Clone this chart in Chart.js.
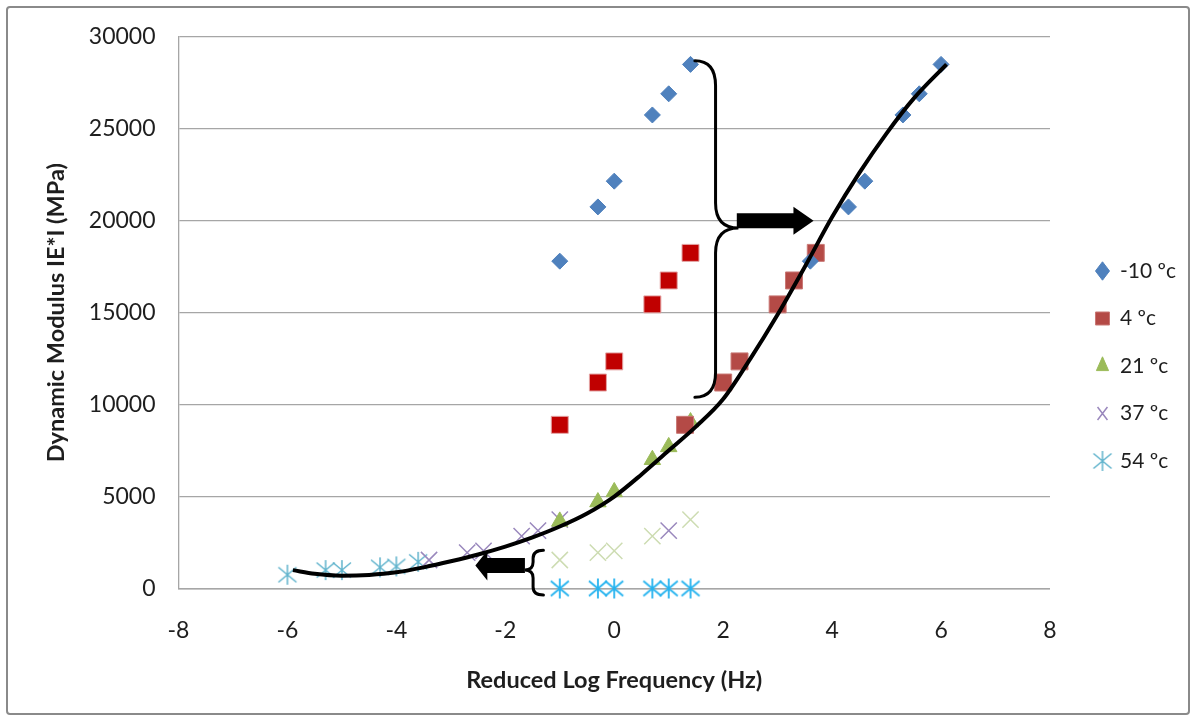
<!DOCTYPE html>
<html>
<head>
<meta charset="utf-8">
<script src="https://cdn.jsdelivr.net/npm/chart.js@4.4.1/dist/chart.umd.min.js"></script>
<style>
  html, body { margin: 0; padding: 0; background: #fff; }
</style>
</head>
<body>
<canvas id="modChart" width="1196" height="721"></canvas>
<script>
  // Frecuencias medidas (log Hz) y frecuencias reducidas tras el desplazamiento
  const logFreq = [-1, -0.3, 0, 0.7, 1, 1.4];
  const redFreqM10 = [3.6, 4.3, 4.6, 5.3, 5.6, 6.0];
  const redFreq4 = [1.3, 2.0, 2.3, 3.0, 3.3, 3.7];
  const redFreq37 = [-3.4, -2.7, -2.4, -1.7, -1.4, -1.0];
  const redFreq54 = [-6.0, -5.3, -5.0, -4.3, -4.0, -3.6];

  // Módulo dinámico |E*| en MPa por temperatura
  const modM10 = [17800, 20750, 22150, 25750, 26900, 28500];
  const mod4 = [8900, 11200, 12350, 15450, 16750, 18250];
  const mod21 = [3650, 4700, 5250, 7000, 7700, 9050];
  const mod37 = [1550, 1950, 2050, 2850, 3150, 3750];
  const mod54 = [750, 1000, 1000, 1150, 1200, 1450];
  const mod54Raw = [0, 0, 0, 0, 0, 0];

  // Curva maestra a 21 ºc
  const masterX = [-5.9, -5.5, -5, -4.5, -4, -3.5, -3, -2.5, -2, -1.5, -1, -0.5, 0, 0.5, 1, 1.5, 2, 2.5, 3, 3.5, 4, 4.5, 5, 5.5, 6.1];
  const masterY = [1000, 800, 700, 740, 880, 1150, 1480, 1850, 2280, 2780, 3370, 4080, 5000, 6200, 7500, 8800, 10300, 12500, 14900, 17500, 20200, 22600, 24750, 26650, 28500];

  const tempLabels = ['-10 ºc', '4 ºc', '21 ºc', '37 ºc', '54 ºc'];

  const xTicks = { min: -8, max: 8, step: 2 };
  const yTicks = { min: 0, max: 30000, step: 5000 };

  const pts = (xs, ys) => xs.map((x, i) => ({ x: x, y: ys[i] }));

  // Asterisco de 6 brazos para la serie de 54 ºc
  function asterisk(color, size, lw) {
    const c = document.createElement('canvas');
    c.width = size; c.height = size;
    const g = c.getContext('2d');
    const h = size / 2;
    g.strokeStyle = color;
    g.lineWidth = lw;
    g.beginPath();
    g.moveTo(h, 1); g.lineTo(h, size - 1);
    g.moveTo(h - 9, h - 7.5); g.lineTo(h + 9, h + 7.5);
    g.moveTo(h - 9, h + 7.5); g.lineTo(h + 9, h - 7.5);
    g.stroke();
    return c;
  }

  const FONT = 'Lato, "Open Sans", sans-serif';
  const GRID = '#a6a6a6';
  const TXT = '#1e1e1e';

  const light37 = '#cddcb2';
  const purple = '#9a88bd';

  // Marco exterior
  const frame = {
    id: 'frame',
    beforeDraw(chart) {
      const c = chart.ctx;
      c.save();
      c.fillStyle = '#fff';
      c.fillRect(0, 0, chart.width, chart.height);
      c.strokeStyle = '#8a8a8a';
      c.lineWidth = 2;
      c.beginPath();
      c.roundRect(7, 7, chart.width - 14, chart.height - 14, 3);
      c.stroke();
      c.restore();
    }
  };

  // Llaves y flechas que indican el desplazamiento horizontal
  const shiftNotes = {
    braces: [
      { end: 1.48, spine: 1.86, tip: 2.28, top: 28700, mid: 19600, bottom: 10400, r: 25 },
      { end: -1.30, spine: -1.49, tip: -1.64, top: 2080, mid: 1000, bottom: -350, r: 8 }
    ],
    arrows: [
      { tail: 2.25, base: 3.29, tip: 3.66, y: 20000, shaft: 7.5, head: 14 },
      { tail: -1.64, base: -2.33, tip: -2.55, y: 1250, shaft: 7.5, head: 15 }
    ]
  };

  const notes = {
    id: 'notes',
    afterDatasetsDraw(chart) {
      const c = chart.ctx;
      const sx = chart.scales.x, sy = chart.scales.y;
      c.save();
      c.strokeStyle = '#000';
      c.fillStyle = '#000';
      c.lineWidth = 3;
      c.lineCap = 'round';
      shiftNotes.braces.forEach(b => {
        const xe = sx.getPixelForValue(b.end), xs = sx.getPixelForValue(b.spine), xt = sx.getPixelForValue(b.tip);
        const yt = sy.getPixelForValue(b.top), ym = sy.getPixelForValue(b.mid), yb = sy.getPixelForValue(b.bottom);
        c.beginPath();
        c.moveTo(xe, yt);
        c.quadraticCurveTo(xs, yt, xs, yt + b.r);
        c.lineTo(xs, ym - b.r);
        c.quadraticCurveTo(xs, ym, xt, ym);
        c.quadraticCurveTo(xs, ym, xs, ym + b.r);
        c.lineTo(xs, yb - b.r);
        c.quadraticCurveTo(xs, yb, xe, yb);
        c.stroke();
      });
      shiftNotes.arrows.forEach(a => {
        const x0 = sx.getPixelForValue(a.tail), x1 = sx.getPixelForValue(a.base), x2 = sx.getPixelForValue(a.tip);
        const y = sy.getPixelForValue(a.y);
        c.beginPath();
        c.moveTo(x0, y - a.shaft);
        c.lineTo(x1, y - a.shaft);
        c.lineTo(x1, y - a.head);
        c.lineTo(x2, y);
        c.lineTo(x1, y + a.head);
        c.lineTo(x1, y + a.shaft);
        c.lineTo(x0, y + a.shaft);
        c.closePath();
        c.fill();
      });
      c.restore();
    }
  };

  const datasets = [
    {
      label: 'master',
      data: pts(masterX, masterY),
      showLine: true,
      borderColor: '#000',
      borderWidth: 4,
      pointRadius: 0,
      cubicInterpolationMode: 'monotone',
      fill: false
    },
    {
      label: tempLabels[0], inLegend: true,
      data: pts(redFreqM10, modM10),
      pointStyle: 'rectRot', pointRadius: 8,
      backgroundColor: '#4f81bd', borderColor: '#4f81bd', borderWidth: 1
    },
    {
      label: tempLabels[1], inLegend: true,
      data: pts(redFreq4, mod4),
      pointStyle: 'rect', pointRadius: 12,
      backgroundColor: '#b44a46', borderColor: '#c97875', borderWidth: 1
    },
    {
      label: tempLabels[2], inLegend: true,
      data: pts(logFreq, mod21),
      pointStyle: 'triangle', pointRadius: 9.5,
      backgroundColor: '#9bbb59', borderColor: '#9bbb59', borderWidth: 1
    },
    {
      label: tempLabels[3], inLegend: true,
      data: pts(redFreq37, mod37),
      pointStyle: 'crossRot', pointRadius: 11.5,
      backgroundColor: purple, borderColor: purple, borderWidth: 1.5
    },
    {
      label: tempLabels[4], inLegend: true,
      data: pts(redFreq54, mod54),
      pointStyle: asterisk('#5fb3cc', 22, 1.5),
      backgroundColor: '#5fb3cc', borderColor: '#5fb3cc', borderWidth: 1.5
    },
    // valores medidos antes del desplazamiento
    {
      label: tempLabels[0] + ' medido',
      data: pts(logFreq, modM10),
      pointStyle: 'rectRot', pointRadius: 8,
      backgroundColor: '#4f81bd', borderColor: '#4f81bd', borderWidth: 1
    },
    {
      label: tempLabels[1] + ' medido',
      data: pts(logFreq, mod4),
      pointStyle: 'rect', pointRadius: 12,
      backgroundColor: '#c00000', borderColor: '#e3a3a3', borderWidth: 1
    },
    {
      label: tempLabels[3] + ' medido',
      data: pts(logFreq, mod37),
      pointStyle: 'crossRot', pointRadius: 11.5,
      borderColor: [light37, light37, light37, light37, purple, light37],
      borderWidth: 1.5
    },
    {
      label: tempLabels[4] + ' medido',
      data: pts(logFreq, mod54Raw),
      pointStyle: asterisk('#25b3ef', 22, 1.8),
      borderColor: '#25b3ef',
      clip: false
    }
  ];

  const ctx = document.getElementById('modChart').getContext('2d');
  new Chart(ctx, {
    type: 'scatter',
    data: { datasets: datasets },
    options: {
      responsive: false,
      animation: false,
      events: [],
      layout: { padding: { left: 10, top: 36, right: 10, bottom: 25 } },
      scales: {
        x: {
          type: 'linear',
          min: xTicks.min, max: xTicks.max,
          ticks: { stepSize: xTicks.step, padding: 28, color: TXT, font: { family: FONT, size: 23 }, callback: v => String(v) },
          grid: { display: false, drawTicks: false },
          border: { display: true, color: GRID, width: 1.5 },
          title: { display: true, text: 'Reduced Log Frequency (Hz)', color: TXT, font: { family: FONT, size: 23.5, weight: 'bold' }, padding: { top: 0, bottom: 1 } },
          afterFit: s => { s.height = 107.5; }
        },
        y: {
          min: yTicks.min, max: yTicks.max,
          ticks: { stepSize: yTicks.step, padding: 23, color: TXT, font: { family: FONT, size: 23 }, callback: v => String(v) },
          grid: { color: GRID, lineWidth: 1.3, drawTicks: false },
          border: { display: true, color: GRID, width: 1.3 },
          title: { display: true, text: 'Dynamic Modulus IE*I (MPa)', color: TXT, font: { family: FONT, size: 23.5, weight: 'bold' }, padding: { top: 32, bottom: 0 } },
          afterFit: s => { s.width = 168.5; }
        },
        gap: {
          position: 'right',
          display: true,
          ticks: { display: false },
          grid: { display: false, drawTicks: false },
          border: { display: false },
          afterFit: s => { s.width = 19; }
        }
      },
      plugins: {
        legend: {
          position: 'right',
          labels: {
            usePointStyle: true,
            pointStyleWidth: 14,
            boxHeight: 13,
            padding: 26.5,
            color: TXT,
            font: { family: FONT, size: 21 },
            filter: (item, data) => data.datasets[item.datasetIndex].inLegend === true
          }
        },
        tooltip: { enabled: false }
      }
    },
    plugins: [frame, notes]
  });
</script>
</body>
</html>
